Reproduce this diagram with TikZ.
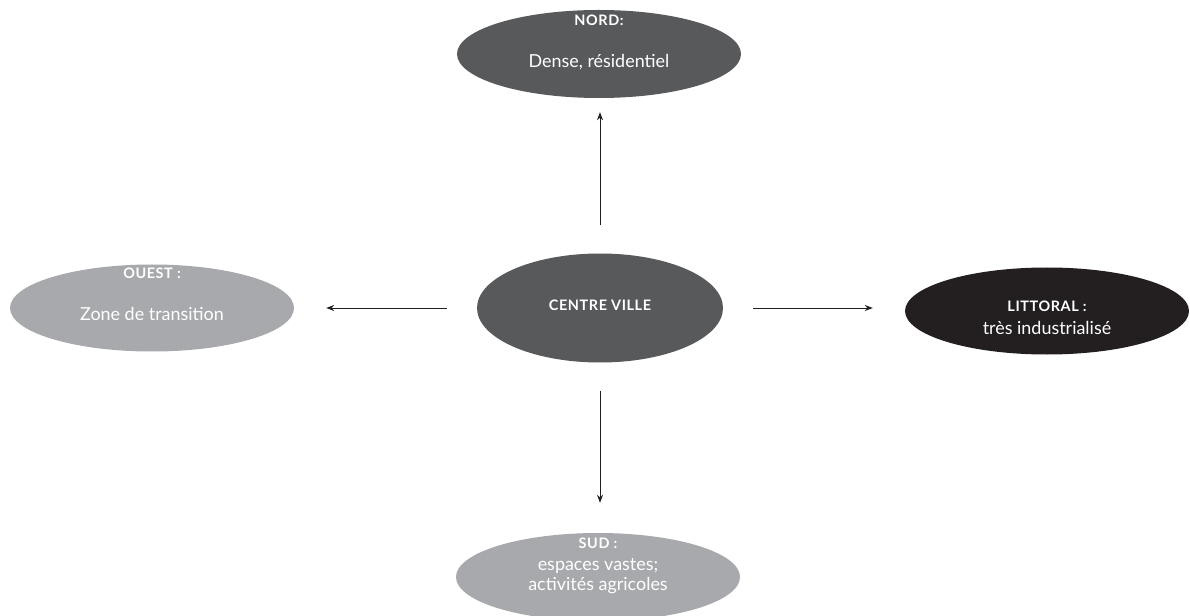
\documentclass[tikz,border=0pt]{standalone}
\usepackage{fontspec}
\setmainfont{Lato}
\usetikzlibrary{shapes.geometric,arrows.meta}
\definecolor{darkg}{HTML}{58595B}
\definecolor{lightg}{HTML}{A7A9AC}
\definecolor{nearblack}{HTML}{231F20}
\tikzset{
  zone/.style={ellipse, inner sep=0pt, draw=none, minimum width=284bp, minimum height=88bp},
  head/.style={text=white, font=\fontsize{14.5}{16}\selectfont\bfseries\addfontfeature{LetterSpace=4}, inner sep=0pt},
  body/.style={text=white, font=\fontsize{18}{20}\selectfont, inner sep=0pt},
  conn/.style={draw=nearblack, line width=0.9bp, -{Stealth[length=8bp,width=6bp]}}
}
\begin{document}
\begin{tikzpicture}[x=1bp,y=-1bp]
\useasboundingbox (0,0) rectangle (1190,616);
\fill[white] (0,0) rectangle (1190,616);
% ellipses
\node[zone, fill=darkg] (nord) at (599,54) {};
\node[zone, fill=darkg, minimum width=246bp, minimum height=109bp] (centre) at (600,308) {};
\node[zone, fill=lightg, minimum height=87bp] (ouest) at (152,308) {};
\node[zone, fill=nearblack, minimum height=87bp] (littoral) at (1047,311) {};
\node[zone, fill=lightg] (sud) at (598,577) {};
% texts
\node[head] (tnord) at (599,20) {NORD:};
\node[body] (bnord) at (599,62) {Dense, résidentiel};
\node[head] (tcentre) at (600,305) {CENTRE VILLE};
\node[head] (touest) at (152,273) {OUEST :};
\node[body] (bouest) at (152,314) {Zone de transition};
\node[head] (tlitt) at (1047,306) {LITTORAL :};
\node[body] (blitt) at (1047,328) {très industrialisé};
\node[head] (tsud) at (598,543) {SUD :};
\node[body] (bsud1) at (598,566) {espaces vastes;};
\node[body] (bsud2) at (598,586) {activités agricoles};
% connectors
\draw[conn, shorten <=28bp, shorten >=14bp] (centre.north) -- (centre.north |- nord.south);
\draw[conn, shorten <=30bp, shorten >=32bp] (centre.west) -- (centre.west -| ouest.east);
\draw[conn, shorten <=30bp, shorten >=32bp] (centre.east) -- (centre.east -| littoral.west);
\draw[conn, shorten <=28bp, shorten >=30bp] (centre.south) -- (centre.south |- sud.north);
\end{tikzpicture}
\end{document}
